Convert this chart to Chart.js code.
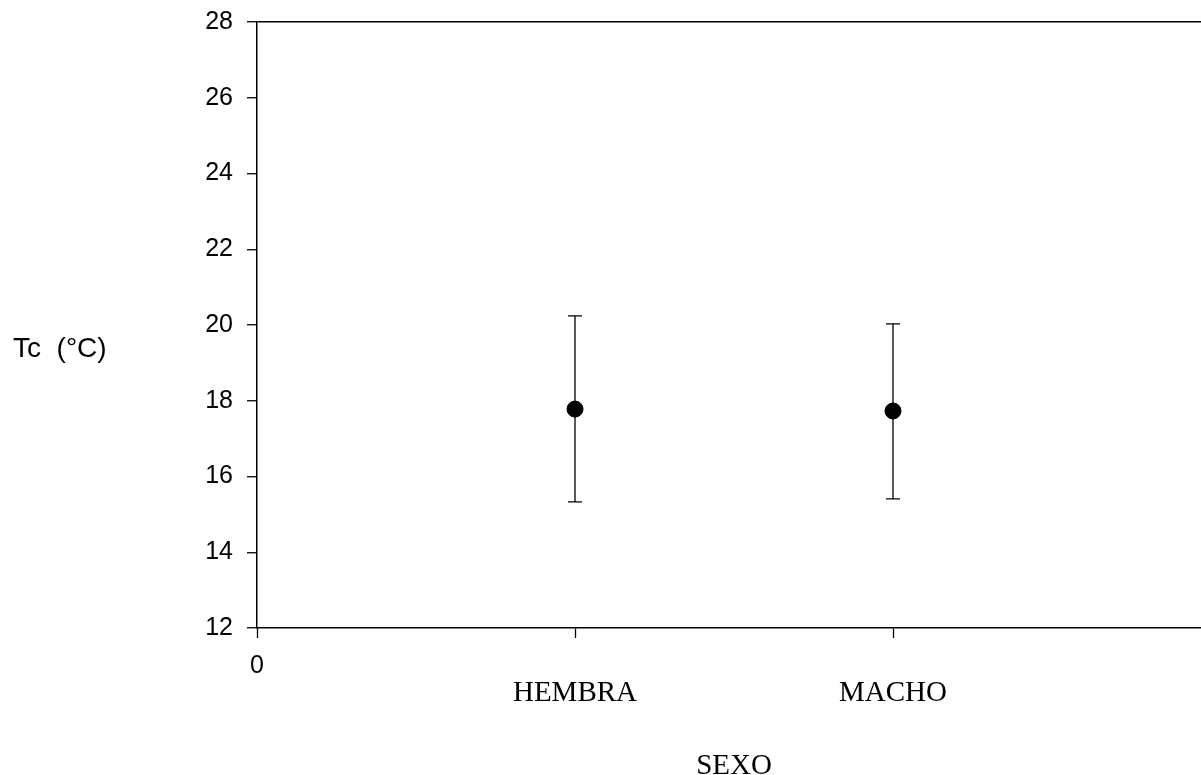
<!DOCTYPE html>
<html lang="es">
<head>
<meta charset="UTF-8">
<title>Tc por sexo</title>
<script src="https://cdn.jsdelivr.net/npm/chart.js"></script>
<style>
  html, body { margin: 0; padding: 0; background: #fff; overflow: hidden; }
</style>
</head>
<body>
<canvas id="grafico" width="1224" height="800"></canvas>
<script>
// datos
const categorias = ['HEMBRA', 'MACHO'];
const posX = [1, 2];
const medias = [17.78, 17.73];
const limInf = [15.33, 15.41];
const limSup = [20.24, 20.03];
const yMin = 12, yMax = 28, yPaso = 2;

const sans = "'Liberation Sans', Arial, sans-serif";
const serif = "'Liberation Serif', 'Times New Roman', serif";

// barras de error (dibujadas antes de los puntos)
const barrasError = {
  id: 'barrasError',
  beforeDatasetsDraw(chart) {
    const c = chart.ctx, sx = chart.scales.x, sy = chart.scales.y;
    c.save();
    c.strokeStyle = '#000';
    c.lineWidth = 1.3;
    for (let i = 0; i < posX.length; i++) {
      const px = sx.getPixelForValue(posX[i]);
      const y1 = sy.getPixelForValue(limInf[i]);
      const y2 = sy.getPixelForValue(limSup[i]);
      c.beginPath();
      c.moveTo(px, y1); c.lineTo(px, y2);
      c.moveTo(px - 7, y1); c.lineTo(px + 7, y1);
      c.moveTo(px - 7, y2); c.lineTo(px + 7, y2);
      c.stroke();
    }
    c.restore();
  }
};

// titulo del eje Y en horizontal
const tituloY = {
  id: 'tituloY',
  afterDraw(chart) {
    const c = chart.ctx;
    c.save();
    c.fillStyle = '#000';
    c.font = '28px ' + sans;
    c.textAlign = 'left';
    c.textBaseline = 'middle';
    c.fillText('Tc  (\u00B0C)', 13, 349);
    c.restore();
  }
};

new Chart(document.getElementById('grafico'), {
  type: 'scatter',
  data: {
    datasets: [{
      data: posX.map((x, i) => ({ x: x, y: medias[i] })),
      pointRadius: 8,
      pointBackgroundColor: '#000',
      pointBorderColor: '#000',
      showLine: false
    }]
  },
  options: {
    responsive: false,
    animation: false,
    layout: { padding: { top: 22, left: 0, right: 4, bottom: 16 } },
    plugins: { legend: { display: false }, tooltip: { enabled: false } },
    scales: {
      x: {
        type: 'linear', position: 'bottom', weight: 0,
        min: 0, max: 3,
        ticks: {
          stepSize: 1, color: '#000', padding: 13,
          font: { family: sans, size: 25 },
          callback: v => (v === 0 ? '0' : '')
        },
        grid: { drawOnChartArea: false, tickLength: 10, tickColor: '#000', tickWidth: 1.3 },
        border: { color: '#000', width: 1.5 },
        afterFit: s => { s.height = 50; }
      },
      x2: {
        type: 'linear', position: 'bottom', weight: 1,
        min: 0, max: 3,
        ticks: {
          stepSize: 1, color: '#000', padding: -10,
          font: { family: serif, size: 29 },
          callback: v => { const i = posX.indexOf(v); return i >= 0 ? categorias[i] : ''; }
        },
        grid: { display: false },
        border: { display: false },
        title: {
          display: true, text: 'SEXO', color: '#000',
          font: { family: serif, size: 29 },
          padding: { top: 0, bottom: 0 }
        },
        afterFit: s => { s.height = 106; }
      },
      y: {
        min: yMin, max: yMax,
        ticks: {
          stepSize: yPaso, color: '#000', padding: 14,
          font: { family: sans, size: 25 }
        },
        grid: {
          tickLength: 10, tickColor: '#000', tickWidth: 1.3, lineWidth: 1.5,
          color: c => (c.tick && c.tick.value === yMax ? '#000' : 'rgba(0,0,0,0)')
        },
        border: { color: '#000', width: 1.5 },
        afterFit: s => { s.width = 257; s.paddingTop = 0; s.paddingBottom = 0; }
      }
    }
  },
  plugins: [barrasError, tituloY]
});
</script>
</body>
</html>
